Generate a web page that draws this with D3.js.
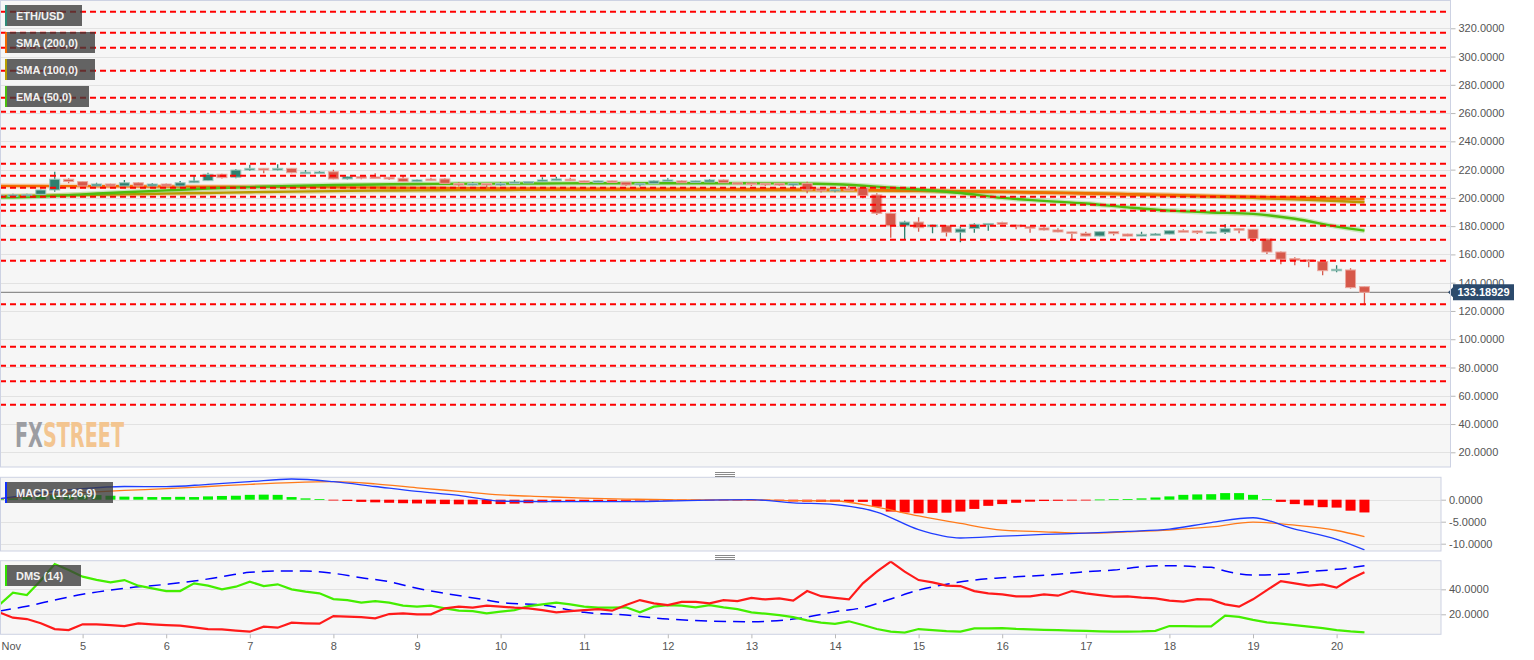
<!DOCTYPE html>
<html lang="en">
<head>
<meta charset="utf-8">
<title>ETH/USD 4h</title>
<script src="https://cdnjs.cloudflare.com/ajax/libs/d3/7.8.5/d3.min.js"></script>
<style>
  body { margin: 0; background: #fff; }
  svg { display: block; font-family: "Liberation Sans", Arial, sans-serif; }
</style>
</head>
<body>
<svg id="chart" width="1534" height="660"></svg>
<script>
// 4h candles, Nov 4 00:00 UTC onwards
const candleOpen = [201.5, 202.0, 202.2, 202.5, 205.6, 213.2, 211.5, 208.4, 209.8, 208.4,
  210.7, 208.4, 209.8, 208.4, 210.7, 212.2, 216.7, 214.6, 219.7, 220.9,
  219.7, 220.9, 217.8, 218.0, 218.5, 213.4, 215.0, 214.8, 214.6, 213.9,
  211.5, 213.3, 213.4, 210.2, 210.0, 210.2, 209.8, 210.3, 211.2, 211.5,
  212.2, 213.2, 212.0, 211.3, 212.0, 211.2, 209.8, 210.3, 212.0, 212.0,
  211.0, 211.2, 212.7, 210.7, 210.5, 210.3, 210.3, 209.1, 210.3, 206.5,
  205.0, 206.5, 207.2, 202.1, 189.1, 180.3, 182.9, 179.6, 180.3, 175.7,
  178.3, 181.3, 182.5, 180.8, 179.6, 178.7, 177.3, 175.9, 174.9, 173.0,
  176.1, 174.4, 173.0, 174.2, 174.4, 176.8, 176.6, 175.4, 175.7, 178.2,
  177.8, 170.9, 161.7, 157.0, 156.1, 154.9, 148.5, 149.0, 137.2];
const candleHigh = [202.5, 203.0, 203.0, 206.0, 218.5, 213.9, 211.8, 210.7, 210.0, 212.7,
  211.0, 210.5, 210.2, 212.0, 215.5, 217.8, 217.0, 220.4, 223.5, 221.2,
  223.8, 221.2, 219.7, 219.0, 219.9, 215.5, 215.2, 217.4, 214.8, 215.5,
  213.0, 214.3, 213.9, 211.0, 211.0, 210.5, 211.0, 212.7, 212.0, 214.6,
  215.0, 214.3, 212.2, 212.2, 212.2, 211.3, 210.5, 212.3, 213.9, 212.3,
  212.2, 213.4, 213.0, 211.0, 210.8, 210.5, 210.5, 210.5, 211.5, 207.0,
  206.1, 208.9, 207.6, 203.3, 189.5, 183.9, 186.3, 181.0, 180.8, 179.6,
  182.0, 182.2, 183.2, 181.0, 179.8, 179.6, 178.5, 176.1, 176.1, 176.3,
  176.3, 174.7, 176.1, 175.2, 177.0, 177.8, 176.8, 176.3, 181.5, 178.5,
  178.0, 171.1, 162.0, 158.0, 156.6, 155.2, 152.3, 150.2, 137.5];
const candleLow = [201.0, 201.0, 201.8, 202.0, 204.4, 210.3, 208.0, 208.2, 208.0, 208.0,
  208.0, 208.0, 208.0, 208.0, 210.5, 212.0, 213.7, 213.9, 219.0, 217.4,
  219.4, 217.5, 217.4, 217.0, 213.2, 213.0, 213.2, 213.9, 212.7, 211.2,
  211.2, 212.2, 210.0, 208.0, 209.0, 207.2, 208.6, 210.0, 211.0, 211.3,
  212.0, 212.0, 211.0, 211.0, 210.8, 208.4, 208.0, 210.0, 211.5, 210.5,
  210.8, 211.0, 210.5, 209.5, 208.4, 208.4, 208.6, 208.0, 203.3, 203.8,
  204.0, 205.5, 199.7, 187.9, 171.8, 170.7, 176.1, 175.0, 172.6, 168.6,
  175.4, 176.8, 181.0, 177.8, 175.4, 177.0, 175.6, 170.2, 172.8, 172.8,
  173.4, 172.8, 172.8, 173.5, 174.2, 176.2, 174.4, 175.2, 174.4, 174.9,
  169.0, 160.3, 153.0, 152.3, 150.9, 145.2, 147.4, 135.8, 124.0];
const candleClose = [202.0, 202.2, 202.5, 205.6, 213.2, 211.5, 208.4, 209.8, 208.4, 210.7,
  208.4, 209.8, 208.4, 210.7, 212.0, 216.7, 214.3, 219.7, 220.9, 219.7,
  220.9, 217.8, 218.2, 218.3, 213.4, 215.0, 214.8, 214.6, 213.4, 211.5,
  212.7, 213.2, 210.3, 210.0, 210.2, 209.9, 210.2, 211.2, 211.6, 212.7,
  213.4, 212.2, 211.3, 212.0, 211.0, 209.1, 210.3, 212.0, 212.7, 210.7,
  212.0, 212.7, 210.7, 209.8, 209.6, 209.6, 209.1, 210.3, 205.6, 205.0,
  206.0, 206.2, 201.6, 189.1, 180.3, 182.9, 178.9, 180.8, 175.7, 178.0,
  181.3, 181.9, 181.3, 179.6, 178.9, 177.3, 175.9, 174.9, 173.0, 176.1,
  174.7, 173.0, 174.2, 174.5, 176.8, 176.4, 175.4, 175.9, 178.2, 177.3,
  171.1, 161.7, 156.6, 156.1, 155.6, 148.5, 149.5, 136.5, 133.18929];
const lastPrice = 133.18929;

// horizontal support / resistance levels
const levelPrices = [331.7, 316.9, 306.3, 290.0, 270.9, 261.0, 249.0, 236.2, 224.2, 215.7,
  207.2, 200.8, 195.2, 190.9, 180.3, 170.4, 155.5, 124.7, 94.7, 81.3, 70.2, 53.7];

// moving averages and MACD lines, sampled every 3 candles (candle index)
const maIdx = [0, 3, 6, 9, 12, 15, 18, 21, 24, 27, 30, 33, 36, 39, 42, 45, 48, 51, 54, 57,
  60, 63, 66, 69, 72, 75, 78, 81, 84, 87, 90, 93, 96, 98];
const sma200 = [208.5, 208.4, 208.3, 208.2, 208.0, 207.9, 207.8, 207.7, 207.5, 207.3,
  207.1, 206.9, 206.7, 206.6, 206.5, 206.4, 206.3, 206.2, 206.1, 206.0,
  205.8, 205.5, 205.1, 204.6, 204.1, 203.6, 203.1, 202.6, 202.0, 201.4,
  200.8, 200.1, 199.5, 199.1];
const sma100 = [201.3, 201.6, 202.0, 202.5, 203.0, 203.5, 204.0, 204.4, 204.8, 205.1,
  205.3, 205.5, 205.6, 205.7, 205.7, 205.7, 205.7, 205.7, 205.6, 205.5,
  205.4, 205.2, 205.0, 204.7, 204.4, 203.9, 203.3, 202.6, 201.8, 201.0,
  200.0, 199.0, 197.8, 196.9];
const ema50 = [200.4, 201.0, 202.5, 204.0, 205.3, 206.6, 207.6, 208.5, 209.1, 209.5,
  209.8, 210.0, 210.1, 210.2, 210.3, 210.3, 210.3, 210.3, 210.3, 210.2,
  209.6, 208.0, 205.9, 203.5, 200.0, 197.9, 196.0, 193.3, 191.0, 189.7,
  188.7, 185.2, 179.7, 176.8];
const macdLine = [0.2, 1.5, 2.5, 3.0, 2.95, 3.5, 4.1, 4.7, 4.1, 3.0,
  1.9, 1.0, -0.3, -0.45, -0.45, -0.45, -0.3, -0.1, 0.0, -0.7,
  -1.1, -2.8, -6.8, -8.7, -8.3, -7.9, -7.6, -7.2, -6.7, -5.2,
  -4.1, -6.7, -9.0, -11.4];
const macdSignal = [0.2, 1.0, 1.6, 2.1, 2.5, 3.0, 3.5, 3.9, 4.1, 3.6,
  2.7, 1.9, 1.1, 0.7, 0.35, 0.15, 0.0, -0.05, -0.05, -0.2,
  -0.3, -1.7, -3.7, -5.4, -6.9, -7.3, -7.6, -7.3, -6.9, -6.2,
  -5.1, -5.8, -7.0, -8.4];
// one value per candle
const macdHist = [0.1, 0.3, 0.6, 1.0, 1.05, 1.1, 1.1, 1.05, 0.9, 0.7,
  0.65, 0.6, 0.6, 0.65, 0.6, 0.75, 0.85, 0.9, 1.1, 1.15,
  1.1, 0.6, 0.3, 0.15, -0.1, -0.3, -0.5, -0.6, -0.7, -0.8,
  -0.85, -0.9, -1.0, -1.05, -1.05, -1.0, -1.0, -0.9, -0.8, -0.6,
  -0.55, -0.5, -0.45, -0.4, -0.3, -0.25, -0.2, -0.15, -0.1, -0.1,
  -0.1, -0.05, -0.05, -0.1, -0.1, -0.2, -0.3, -0.4, -0.45, -0.5,
  -0.5, -0.5, -0.5, -1.6, -2.7, -2.9, -3.1, -3.0, -2.95, -2.7,
  -2.1, -1.4, -1.0, -0.7, -0.45, -0.3, -0.25, -0.2, -0.1, 0.05,
  0.1, 0.15, 0.3, 0.5, 0.75, 1.1, 1.2, 1.25, 1.5, 1.5,
  1.1, 0.1, -0.5, -1.0, -1.3, -1.7, -1.8, -2.5, -2.9];
const diPlus = [27.4, 37.3, 35.4, 47.0, 60.2, 55.4, 50.1, 47.6, 45.6, 47.4,
  42.9, 40.8, 38.6, 38.6, 44.8, 42.9, 40.0, 42.1, 46.1, 42.6,
  44.0, 40.0, 38.1, 36.8, 32.2, 31.4, 29.3, 30.6, 29.3, 26.9,
  26.1, 26.9, 24.8, 22.9, 22.6, 20.8, 22.1, 23.4, 26.5, 28.0,
  29.3, 28.0, 26.1, 25.3, 25.3, 25.6, 21.6, 26.1, 27.4, 26.9,
  25.6, 27.4, 25.6, 24.2, 21.6, 20.5, 19.4, 17.8, 15.2, 13.3,
  12.3, 14.4, 11.4, 8.2, 6.1, 5.3, 8.2, 7.4, 6.6, 6.1,
  8.7, 8.7, 9.0, 8.3, 8.0, 7.6, 7.3, 7.0, 6.7, 6.4,
  6.2, 6.1, 6.3, 6.8, 10.6, 10.6, 10.4, 10.3, 18.9, 17.9,
  15.5, 13.5, 12.5, 11.4, 10.1, 9.0, 7.4, 6.3, 5.6];
const diMinus = [21.6, 17.3, 16.2, 12.8, 8.2, 7.4, 12.0, 12.0, 11.4, 10.6,
  12.8, 12.0, 11.4, 10.9, 9.6, 8.2, 7.9, 6.9, 6.1, 10.1,
  9.3, 13.3, 12.8, 12.5, 18.6, 18.1, 17.8, 16.8, 20.2, 20.8,
  20.0, 20.0, 24.8, 26.1, 25.3, 26.9, 26.1, 25.3, 24.8, 23.4,
  21.6, 22.6, 23.4, 24.2, 22.9, 27.4, 31.4, 28.8, 27.4, 30.0,
  30.0, 28.8, 31.4, 30.6, 33.2, 31.9, 32.7, 30.9, 38.6, 34.5,
  33.2, 31.9, 44.8, 54.1, 62.1, 54.1, 47.4, 45.6, 42.9, 42.6,
  38.6, 36.8, 36.0, 34.4, 34.4, 36.0, 34.9, 38.6, 36.8, 35.4,
  34.1, 34.4, 33.3, 32.8, 30.9, 30.1, 32.2, 31.7, 28.0, 26.1,
  32.0, 39.4, 46.6, 44.8, 42.9, 44.0, 41.3, 48.2, 53.6];
const adxIdx = [0, 2, 4, 6, 9, 12, 14, 16, 18, 20, 22, 24, 26, 28, 30, 32, 35, 36, 39, 42,
  45, 48, 51, 54, 57, 58, 60, 62, 64, 66, 68, 70, 72, 76, 78, 80, 82, 84, 86, 87,
  88, 90, 92, 94, 96, 98];
const adxVals = [22.6, 26.5, 31.4, 36.0, 40.8, 44.0, 46.6, 50.1, 53.6, 54.6,
  54.6, 52.8, 49.3, 46.1, 40.8, 36.8, 31.4, 29.5, 27.4, 21.6,
  19.4, 16.2, 14.6, 14.1, 16.2, 17.8, 22.1, 25.3, 32.2, 39.4,
  44.0, 47.4, 49.3, 52.0, 54.1, 55.4, 58.1, 58.9, 58.1, 57.6,
  54.6, 51.4, 52.0, 54.1, 56.0, 58.9];

const priceTicks = [20, 40, 60, 80, 100, 120, 140, 160, 180, 200, 220, 240, 260, 280, 300, 320];
const macdTicks = [0, -5, -10];
const dmsTicks = [20, 40];
const dayLabels = ["Nov", "5", "6", "7", "8", "9", "10", "11", "12", "13", "14", "15", "16", "17", "18", "19", "20"];

const legends = [
  { label: "ETH/USD", color: "#2e8b78", x: 5, y: 5, w: 77 },
  { label: "SMA (200,0)", color: "#f06a00", x: 5, y: 32, w: 90 },
  { label: "SMA (100,0)", color: "#b9a000", x: 5, y: 59, w: 90 },
  { label: "EMA (50,0)", color: "#4cbf10", x: 5, y: 86, w: 84 },
  { label: "MACD (12,26,9)", color: "#1030ff", x: 5, y: 482, w: 108 },
  { label: "DMS (14)", color: "#30e000", x: 5, y: 565, w: 76 }
];

const HOUR = 3600e3, DAY = 24 * HOUR;
const t0 = Date.UTC(2018, 10, 4);
const candleTime = k => new Date(t0 + k * 4 * HOUR);

const svg = d3.select("#chart");

let x = d3.scaleUtc()
  .domain([new Date(t0), new Date(t0 + 17 * DAY)])
  .range([-1, -1 + 83.6 * 17]);

const mainP = { x0: 0.5, x1: 1450.5, y0: 0.5, y1: 467 };
const macdP = { x0: 0.5, x1: 1441, y0: 477.3, y1: 551 };
const dmsP = { x0: 0.5, x1: 1441, y0: 560.7, y1: 634.3 };

let yMain = d3.scaleLinear().domain([9.6, 340]).range([467, 0]);
let yMacd = d3.scaleLinear().domain([-11.66, 5.09]).range([551, 477.3]);
let yDms = d3.scaleLinear().domain([4, 62.9]).range([634.3, 560.7]);

const defs = svg.append("defs");

function panel(p, id, yScale, ticks) {
  svg.append("rect")
    .attr("x", p.x0).attr("y", p.y0)
    .attr("width", p.x1 - p.x0).attr("height", p.y1 - p.y0)
    .attr("fill", "#f6f6f6");
  defs.append("clipPath").attr("id", id)
    .append("rect")
    .attr("x", p.x0).attr("y", p.y0)
    .attr("width", p.x1 - p.x0).attr("height", p.y1 - p.y0);
  // horizontal grid
  svg.append("g").selectAll("line").data(ticks).join("line")
    .attr("x1", p.x0).attr("x2", p.x1)
    .attr("y1", d => Math.round(yScale(d)) + 0.5)
    .attr("y2", d => Math.round(yScale(d)) + 0.5)
    .attr("stroke", "#e2e2e2");
  // value axis on the right
  const ax = svg.append("g")
    .attr("transform", "translate(" + p.x1 + ",0)")
    .call(d3.axisRight(yScale).tickValues(ticks).tickSize(5).tickPadding(3)
      .tickFormat(d => d.toFixed(4)));
  ax.select(".domain").remove();
  ax.selectAll("line").attr("stroke", "#b8b8b8");
  ax.selectAll("text").attr("fill", "#555").style("font-size", "11px")
    .style("font-family", "'Liberation Sans', Arial, sans-serif");
}

panel(mainP, "clip-main", yMain, priceTicks);
panel(macdP, "clip-macd", yMacd, macdTicks);
panel(dmsP, "clip-dms", yDms, dmsTicks);

// watermark: one text, squeezed horizontally to the logo width
const wmG = svg.append("g");
const wm = wmG.append("text")
  .attr("x", 0).attr("y", 0)
  .style("font-family", "'DejaVu Sans', sans-serif")
  .style("font-weight", "bold").style("font-size", "34px");
wm.append("tspan").attr("fill", "#9c9da2").text("FX");
wm.append("tspan").attr("fill", "#f3c590").text("STREET");
const wmScale = 109 / wm.node().getComputedTextLength();
wmG.attr("transform", "translate(15,447) scale(" + wmScale + ",1)");

// ---------- main price panel ----------
const gMain = svg.append("g").attr("clip-path", "url(#clip-main)");

// last price line
gMain.append("line")
  .attr("x1", 0).attr("x2", mainP.x1)
  .attr("y1", yMain(lastPrice)).attr("y2", yMain(lastPrice))
  .attr("stroke", "#8e8e8e").attr("stroke-width", 1.2);

const maLine = vals => d3.line()
  .x((v, i) => x(candleTime(maIdx[i])))
  .y(v => yMain(v))
  .curve(d3.curveMonotoneX)(vals);

[[sma100, "#b99a00"], [sma200, "#f26e00"], [ema50, "#4fbb10"]].forEach(([vals, col]) => {
  gMain.append("path").attr("d", maLine(vals))
    .attr("fill", "none").attr("stroke", col).attr("stroke-width", 5).attr("stroke-opacity", 0.25);
  gMain.append("path").attr("d", maLine(vals))
    .attr("fill", "none").attr("stroke", col).attr("stroke-width", 2.4);
});

const candles = candleOpen.map((o, k) => ({
  t: candleTime(k), o: o, h: candleHigh[k], l: candleLow[k], c: candleClose[k]
}));
const up = "#2f7f6f", down = "#d6584a";

gMain.append("g").selectAll("line").data(candles).join("line")
  .attr("x1", d => x(d.t)).attr("x2", d => x(d.t))
  .attr("y1", d => yMain(d.h)).attr("y2", d => yMain(d.l))
  .attr("stroke", d => d.c >= d.o ? up : down).attr("stroke-width", 1.3);

gMain.append("g").selectAll("rect").data(candles).join("rect")
  .attr("x", d => x(d.t) - 5).attr("width", 10)
  .attr("y", d => yMain(Math.max(d.o, d.c)))
  .attr("height", d => Math.max(1.5, Math.abs(yMain(d.o) - yMain(d.c))))
  .attr("fill", d => d.c >= d.o ? up : down)
  .attr("stroke", d => d.c >= d.o ? "#9cc7bd" : "#eba79e")
  .attr("stroke-width", 1);

// support / resistance levels
gMain.append("g").selectAll("line").data(levelPrices).join("line")
  .attr("x1", 0).attr("x2", mainP.x1)
  .attr("y1", d => yMain(d)).attr("y2", d => yMain(d))
  .attr("stroke", "#ff0000").attr("stroke-width", 2)
  .attr("stroke-dasharray", "6,4");

// last price tag
const ly = yMain(lastPrice);
svg.append("path")
  .attr("d", "M1448," + ly + " L1453," + (ly - 5) + " L1453," + (ly - 8) + " L1514," + (ly - 8) +
    " L1514," + (ly + 8) + " L1453," + (ly + 8) + " L1453," + (ly + 5) + " Z")
  .attr("fill", "#2c4a6c");
svg.append("text").attr("x", 1483.5).attr("y", ly + 4)
  .attr("text-anchor", "middle").attr("fill", "#fff")
  .style("font-size", "11px").style("font-weight", "bold")
  .text(lastPrice.toFixed(5));

// ---------- MACD panel ----------
const gMacd = svg.append("g").attr("clip-path", "url(#clip-macd)");
gMacd.append("g").selectAll("rect").data(macdHist).join("rect")
  .attr("x", (v, k) => x(candleTime(k)) - 5).attr("width", 10)
  .attr("y", v => v >= 0 ? yMacd(v) : yMacd(0))
  .attr("height", v => Math.max(0.8, Math.abs(yMacd(v) - yMacd(0))))
  .attr("fill", v => v >= 0 ? "#00f000" : "#ff0000");

const macdPath = vals => d3.line()
  .x((v, i) => x(candleTime(maIdx[i])))
  .y(v => yMacd(v))
  .curve(d3.curveMonotoneX)(vals);
gMacd.append("path").attr("d", macdPath(macdSignal))
  .attr("fill", "none").attr("stroke", "#ff7a1a").attr("stroke-width", 1.3);
gMacd.append("path").attr("d", macdPath(macdLine))
  .attr("fill", "none").attr("stroke", "#1f3dff").attr("stroke-width", 1.3);

// ---------- DMS panel ----------
const gDms = svg.append("g").attr("clip-path", "url(#clip-dms)");
const diPath = vals => d3.line()
  .x((v, k) => x(candleTime(k)))
  .y(v => yDms(v))(vals);
gDms.append("path")
  .attr("d", d3.line().x((v, i) => x(candleTime(adxIdx[i]))).y(v => yDms(v)).curve(d3.curveMonotoneX)(adxVals))
  .attr("fill", "none").attr("stroke", "#0000ff").attr("stroke-width", 1.5)
  .attr("stroke-dasharray", "12,7");
gDms.append("path").attr("d", diPath(diPlus))
  .attr("fill", "none").attr("stroke", "#44ee00").attr("stroke-width", 2.2);
gDms.append("path").attr("d", diPath(diMinus))
  .attr("fill", "none").attr("stroke", "#ff1a1a").attr("stroke-width", 2.2);

// panel borders
[mainP, macdP, dmsP].forEach(p => {
  svg.append("rect")
    .attr("x", p.x0).attr("y", p.y0)
    .attr("width", p.x1 - p.x0).attr("height", p.y1 - p.y0)
    .attr("fill", "none").attr("stroke", "#cdd2e3");
});

// resize handles between panels
[472, 555].forEach(hy => {
  svg.append("g").selectAll("line").data([0, 2, 4]).join("line")
    .attr("x1", 715).attr("x2", 735)
    .attr("y1", d => hy + d + 0.5).attr("y2", d => hy + d + 0.5)
    .attr("stroke", "#8a8a8a");
});

// ---------- time axis ----------
const dayTicks = dayLabels.map((_, i) => new Date(t0 + i * DAY));
const xAxis = svg.append("g")
  .attr("transform", "translate(0," + dmsP.y1 + ")")
  .call(d3.axisBottom(x).tickValues(dayTicks).tickSize(4).tickPadding(4)
    .tickFormat((d, i) => dayLabels[i]));
xAxis.select(".domain").remove();
xAxis.selectAll("line").attr("stroke", "#b8b8b8");
xAxis.selectAll("text").attr("fill", "#555").style("font-size", "11px")
  .style("font-family", "'Liberation Sans', Arial, sans-serif");
xAxis.selectAll(".tick").filter((d, i) => i === 0).select("text")
  .attr("text-anchor", "start").attr("x", 2);

// ---------- legend boxes ----------
legends.forEach(l => {
  const g = svg.append("g");
  g.append("rect").attr("x", l.x).attr("y", l.y).attr("width", l.w).attr("height", 21)
    .attr("fill", "rgba(58,58,58,0.78)");
  g.append("rect").attr("x", l.x).attr("y", l.y).attr("width", 2).attr("height", 21)
    .attr("fill", l.color);
  g.append("text").attr("x", l.x + 11).attr("y", l.y + 15)
    .attr("fill", "#f2f2f2").style("font-size", "11px").style("font-weight", "bold")
    .text(l.label);
});
</script>
</body>
</html>
